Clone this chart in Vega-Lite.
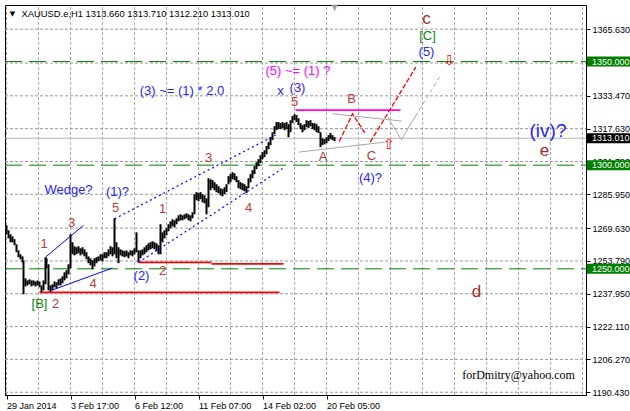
{
  "$schema": "https://vega.github.io/schema/vega-lite/v6.json",
  "width": 581,
  "height": 390,
  "padding": {"left": 3, "top": 3, "right": 0, "bottom": 0},
  "background": "white",
  "config": {
    "view": {"stroke": "black", "strokeWidth": 1},
    "font": "Liberation Sans",
    "axis": {"grid": false, "labelOverlap": false, "labelSeparation": 0, "title": null,
      "labelFont": "Liberation Sans", "labelFontSize": 9, "labelColor": "black", "labelPadding": 2, "tickSize": 4, "tickColor": "black", "tickWidth": 1, "domainColor": "black"}
  },
  "encoding": {
    "x": {
      "field": "t", "type": "quantitative",
      "scale": {"domain": [-1.5, 579.5], "nice": false, "zero": false},
      "axis": {
        "title": null,
        "values": [0, 64, 128, 192, 256, 320],
        "labelExpr": "datum.value == 0 ? '29 Jan 2014' : datum.value == 64 ? '3 Feb 17:00' : datum.value == 128 ? '6 Feb 12:00' : datum.value == 192 ? '11 Feb 07:00' : datum.value == 256 ? '14 Feb 02:00' : '20 Feb 05:00'",
        "labelAlign": "left", "labelBaseline": "top", "labelFlush": false, "labelOverlap": false
      }
    },
    "y": {
      "field": "p", "type": "quantitative",
      "scale": {"domain": [1189.1, 1377.3], "nice": false, "zero": false},
      "axis": {
        "title": null, "orient": "right",
        "values": [1190.43, 1206.27, 1222.11, 1237.95, 1253.79, 1269.63, 1285.95, 1301.79, 1317.63, 1333.47, 1365.63],
        "format": ".3f", "labelOverlap": false
      }
    }
  },
  "datasets": {
    "grid": [
      {"id":"v0","o":0,"t":0,"p":1189.1},{"id":"v0","o":1,"t":0,"p":1377.3},
      {"id":"v1","o":0,"t":32,"p":1189.1},{"id":"v1","o":1,"t":32,"p":1377.3},
      {"id":"v2","o":0,"t":64,"p":1189.1},{"id":"v2","o":1,"t":64,"p":1377.3},
      {"id":"v3","o":0,"t":96,"p":1189.1},{"id":"v3","o":1,"t":96,"p":1377.3},
      {"id":"v4","o":0,"t":128,"p":1189.1},{"id":"v4","o":1,"t":128,"p":1377.3},
      {"id":"v5","o":0,"t":160,"p":1189.1},{"id":"v5","o":1,"t":160,"p":1377.3},
      {"id":"v6","o":0,"t":192,"p":1189.1},{"id":"v6","o":1,"t":192,"p":1377.3},
      {"id":"v7","o":0,"t":224,"p":1189.1},{"id":"v7","o":1,"t":224,"p":1377.3},
      {"id":"v8","o":0,"t":256,"p":1189.1},{"id":"v8","o":1,"t":256,"p":1377.3},
      {"id":"v9","o":0,"t":288,"p":1189.1},{"id":"v9","o":1,"t":288,"p":1377.3},
      {"id":"v10","o":0,"t":320,"p":1189.1},{"id":"v10","o":1,"t":320,"p":1377.3},
      {"id":"v11","o":0,"t":352,"p":1189.1},{"id":"v11","o":1,"t":352,"p":1377.3},
      {"id":"v12","o":0,"t":384,"p":1189.1},{"id":"v12","o":1,"t":384,"p":1377.3},
      {"id":"v13","o":0,"t":416,"p":1189.1},{"id":"v13","o":1,"t":416,"p":1377.3},
      {"id":"v14","o":0,"t":448,"p":1189.1},{"id":"v14","o":1,"t":448,"p":1377.3},
      {"id":"v15","o":0,"t":480,"p":1189.1},{"id":"v15","o":1,"t":480,"p":1377.3},
      {"id":"v16","o":0,"t":512,"p":1189.1},{"id":"v16","o":1,"t":512,"p":1377.3},
      {"id":"v17","o":0,"t":544,"p":1189.1},{"id":"v17","o":1,"t":544,"p":1377.3},
      {"id":"v18","o":0,"t":576,"p":1189.1},{"id":"v18","o":1,"t":576,"p":1377.3},
      {"id":"h0","o":0,"t":-1.5,"p":1190.43},{"id":"h0","o":1,"t":579.5,"p":1190.43},
      {"id":"h1","o":0,"t":-1.5,"p":1206.27},{"id":"h1","o":1,"t":579.5,"p":1206.27},
      {"id":"h2","o":0,"t":-1.5,"p":1222.11},{"id":"h2","o":1,"t":579.5,"p":1222.11},
      {"id":"h3","o":0,"t":-1.5,"p":1237.95},{"id":"h3","o":1,"t":579.5,"p":1237.95},
      {"id":"h4","o":0,"t":-1.5,"p":1253.79},{"id":"h4","o":1,"t":579.5,"p":1253.79},
      {"id":"h5","o":0,"t":-1.5,"p":1269.63},{"id":"h5","o":1,"t":579.5,"p":1269.63},
      {"id":"h6","o":0,"t":-1.5,"p":1285.95},{"id":"h6","o":1,"t":579.5,"p":1285.95},
      {"id":"h7","o":0,"t":-1.5,"p":1301.79},{"id":"h7","o":1,"t":579.5,"p":1301.79},
      {"id":"h8","o":0,"t":-1.5,"p":1317.63},{"id":"h8","o":1,"t":579.5,"p":1317.63},
      {"id":"h9","o":0,"t":-1.5,"p":1333.47},{"id":"h9","o":1,"t":579.5,"p":1333.47},
      {"id":"h10","o":0,"t":-1.5,"p":1349.31},{"id":"h10","o":1,"t":579.5,"p":1349.31},
      {"id":"h11","o":0,"t":-1.5,"p":1365.63},{"id":"h11","o":1,"t":579.5,"p":1365.63}
    ],
    "bars": [
      {"t":0,"p":1266.7,"hi":1271.0},{"t":2,"p":1264.7,"hi":1268.6},{"t":4,"p":1262.8,"hi":1266.7},{"t":6,"p":1262.8,"hi":1265.7},
      {"t":8,"p":1261.4,"hi":1264.3},{"t":10,"p":1258.0,"hi":1261.8},{"t":12,"p":1255.6,"hi":1258.9},{"t":14,"p":1254.6,"hi":1257.0},
      {"t":16,"p":1253.1,"hi":1256.0},{"t":17,"p":1237.7,"hi":1254.1},{"t":19,"p":1241.5,"hi":1245.4},{"t":21,"p":1242.0,"hi":1244.4},
      {"t":23,"p":1242.5,"hi":1244.9},{"t":25,"p":1241.5,"hi":1244.4},{"t":27,"p":1242.0,"hi":1244.4},{"t":29,"p":1241.5,"hi":1243.9},
      {"t":31,"p":1242.0,"hi":1244.4},{"t":33,"p":1241.1,"hi":1243.9},{"t":35,"p":1238.6,"hi":1242.0},{"t":37,"p":1239.6,"hi":1244.4},
      {"t":39,"p":1242.5,"hi":1255.6},{"t":40,"p":1250.2,"hi":1255.1},{"t":42,"p":1239.6,"hi":1252.2},{"t":44,"p":1238.6,"hi":1242.0},
      {"t":46,"p":1239.6,"hi":1242.5},{"t":48,"p":1241.1,"hi":1243.9},{"t":50,"p":1240.6,"hi":1243.5},{"t":52,"p":1242.0,"hi":1244.9},
      {"t":54,"p":1242.0,"hi":1245.4},{"t":56,"p":1243.0,"hi":1246.4},{"t":58,"p":1244.4,"hi":1248.3},{"t":60,"p":1245.4,"hi":1249.3},
      {"t":62,"p":1247.3,"hi":1252.2},{"t":64,"p":1250.2,"hi":1266.7},{"t":66,"p":1257.0,"hi":1262.8},{"t":68,"p":1256.5,"hi":1260.9},
      {"t":70,"p":1257.0,"hi":1260.4},{"t":72,"p":1257.5,"hi":1260.9},{"t":74,"p":1256.5,"hi":1259.9},{"t":76,"p":1257.0,"hi":1260.4},
      {"t":78,"p":1256.0,"hi":1259.4},{"t":80,"p":1254.6,"hi":1258.0},{"t":82,"p":1252.7,"hi":1256.0},{"t":84,"p":1251.7,"hi":1255.1},
      {"t":86,"p":1249.8,"hi":1254.1},{"t":88,"p":1251.2,"hi":1255.1},{"t":90,"p":1252.7,"hi":1255.6},{"t":92,"p":1253.6,"hi":1256.0},
      {"t":94,"p":1254.1,"hi":1257.0},{"t":96,"p":1253.6,"hi":1257.0},{"t":98,"p":1255.1,"hi":1258.0},{"t":100,"p":1255.1,"hi":1258.0},
      {"t":102,"p":1256.0,"hi":1259.4},{"t":104,"p":1257.0,"hi":1260.9},{"t":106,"p":1256.0,"hi":1260.4},{"t":108,"p":1257.0,"hi":1274.4},
      {"t":110,"p":1255.1,"hi":1262.8},{"t":112,"p":1252.7,"hi":1260.4},{"t":114,"p":1256.5,"hi":1259.4},{"t":116,"p":1256.0,"hi":1258.9},
      {"t":118,"p":1255.6,"hi":1258.5},{"t":120,"p":1256.0,"hi":1258.9},{"t":122,"p":1255.1,"hi":1258.0},{"t":124,"p":1256.5,"hi":1258.9},
      {"t":126,"p":1256.0,"hi":1258.9},{"t":128,"p":1257.0,"hi":1259.9},{"t":130,"p":1258.0,"hi":1267.6},{"t":132,"p":1253.1,"hi":1258.9},
      {"t":134,"p":1255.1,"hi":1258.9},{"t":136,"p":1256.5,"hi":1259.4},{"t":138,"p":1257.0,"hi":1260.4},{"t":140,"p":1258.0,"hi":1261.4},
      {"t":142,"p":1258.9,"hi":1262.3},{"t":144,"p":1259.4,"hi":1262.8},{"t":146,"p":1259.9,"hi":1263.3},{"t":148,"p":1259.4,"hi":1262.8},
      {"t":150,"p":1258.5,"hi":1262.3},{"t":152,"p":1257.0,"hi":1261.4},{"t":154,"p":1257.0,"hi":1271.5},{"t":156,"p":1262.8,"hi":1267.6},
      {"t":158,"p":1264.7,"hi":1268.6},{"t":160,"p":1266.2,"hi":1269.6},{"t":162,"p":1268.1,"hi":1271.5},{"t":164,"p":1269.6,"hi":1272.9},
      {"t":166,"p":1270.5,"hi":1273.9},{"t":168,"p":1270.0,"hi":1273.4},{"t":170,"p":1271.5,"hi":1274.4},{"t":172,"p":1272.9,"hi":1275.8},
      {"t":174,"p":1273.4,"hi":1276.3},{"t":176,"p":1273.4,"hi":1275.8},{"t":178,"p":1273.9,"hi":1276.3},{"t":180,"p":1274.4,"hi":1276.8},
      {"t":182,"p":1273.4,"hi":1276.3},{"t":184,"p":1272.9,"hi":1275.8},{"t":186,"p":1274.4,"hi":1277.3},{"t":188,"p":1276.3,"hi":1286.0},
      {"t":190,"p":1283.1,"hi":1287.0},{"t":192,"p":1282.6,"hi":1286.5},{"t":194,"p":1283.6,"hi":1287.0},{"t":196,"p":1282.1,"hi":1286.0},
      {"t":198,"p":1281.6,"hi":1285.5},{"t":200,"p":1276.3,"hi":1284.1},{"t":202,"p":1279.7,"hi":1293.7},{"t":204,"p":1287.9,"hi":1293.2},
      {"t":206,"p":1288.9,"hi":1292.8},{"t":208,"p":1287.9,"hi":1291.8},{"t":210,"p":1287.0,"hi":1290.8},{"t":212,"p":1286.5,"hi":1289.9},
      {"t":214,"p":1285.5,"hi":1288.9},{"t":216,"p":1285.0,"hi":1288.4},{"t":218,"p":1286.0,"hi":1289.4},{"t":220,"p":1287.0,"hi":1290.8},
      {"t":222,"p":1290.8,"hi":1294.7},{"t":224,"p":1291.8,"hi":1295.7},{"t":226,"p":1293.2,"hi":1296.6},{"t":228,"p":1292.8,"hi":1296.1},
      {"t":230,"p":1291.8,"hi":1294.7},{"t":232,"p":1288.9,"hi":1292.8},{"t":234,"p":1288.4,"hi":1291.8},{"t":236,"p":1287.9,"hi":1291.3},
      {"t":238,"p":1287.4,"hi":1290.8},{"t":240,"p":1286.5,"hi":1289.9},{"t":242,"p":1288.9,"hi":1293.7},{"t":244,"p":1291.8,"hi":1295.7},
      {"t":246,"p":1293.7,"hi":1297.6},{"t":248,"p":1295.7,"hi":1299.5},{"t":250,"p":1298.1,"hi":1301.4},{"t":252,"p":1299.5,"hi":1302.9},
      {"t":254,"p":1301.0,"hi":1304.8},{"t":256,"p":1302.9,"hi":1306.3},{"t":258,"p":1303.9,"hi":1307.2},{"t":260,"p":1305.3,"hi":1309.2},
      {"t":262,"p":1307.7,"hi":1311.1},{"t":264,"p":1309.7,"hi":1313.5},{"t":266,"p":1312.1,"hi":1315.9},{"t":268,"p":1315.0,"hi":1318.8},
      {"t":270,"p":1316.9,"hi":1320.8},{"t":272,"p":1317.4,"hi":1320.8},{"t":274,"p":1317.4,"hi":1320.3},{"t":276,"p":1317.9,"hi":1320.8},
      {"t":278,"p":1316.9,"hi":1320.3},{"t":280,"p":1317.4,"hi":1320.8},{"t":282,"p":1313.5,"hi":1319.8},{"t":284,"p":1315.9,"hi":1321.7},
      {"t":286,"p":1320.3,"hi":1323.7},{"t":288,"p":1321.7,"hi":1324.6},{"t":290,"p":1320.8,"hi":1324.2},{"t":292,"p":1319.3,"hi":1322.7},
      {"t":294,"p":1317.4,"hi":1320.3},{"t":296,"p":1315.9,"hi":1319.3},{"t":298,"p":1316.9,"hi":1319.8},{"t":300,"p":1318.4,"hi":1321.7},
      {"t":302,"p":1317.9,"hi":1321.3},{"t":304,"p":1318.8,"hi":1321.7},{"t":306,"p":1317.4,"hi":1320.3},{"t":308,"p":1316.9,"hi":1320.3},
      {"t":310,"p":1315.9,"hi":1319.8},{"t":312,"p":1315.5,"hi":1318.8},{"t":314,"p":1308.7,"hi":1315.9},{"t":316,"p":1309.7,"hi":1313.0},
      {"t":318,"p":1310.1,"hi":1312.6},{"t":320,"p":1310.6,"hi":1313.5},{"t":322,"p":1311.6,"hi":1314.5},{"t":324,"p":1312.6,"hi":1315.5},
      {"t":326,"p":1312.1,"hi":1314.5},{"t":328,"p":1311.6,"hi":1313.5}
    ],
    "segs": [
      {"id":"L1350","kind":"green","o":0,"t":-1.5,"p":1350},{"id":"L1350","kind":"green","o":1,"t":579.5,"p":1350},
      {"id":"L1300","kind":"green","o":0,"t":-1.5,"p":1300},{"id":"L1300","kind":"green","o":1,"t":579.5,"p":1300},
      {"id":"L1250","kind":"green","o":0,"t":-1.5,"p":1250},{"id":"L1250","kind":"green","o":1,"t":579.5,"p":1250},
      {"id":"bid","kind":"bid","o":0,"t":-1.5,"p":1313.01},{"id":"bid","kind":"bid","o":1,"t":579.5,"p":1313.01},
      {"id":"w1","kind":"blue","o":0,"t":39,"p":1255.6},{"id":"w1","kind":"blue","o":1,"t":77,"p":1271.0},
      {"id":"w2","kind":"blue","o":0,"t":45,"p":1239.6},{"id":"w2","kind":"blue","o":1,"t":106,"p":1250.4},
      {"id":"c1","kind":"bluedot","o":0,"t":108,"p":1274.1},{"id":"c1","kind":"bluedot","o":1,"t":269,"p":1314.5},
      {"id":"c2","kind":"bluedot","o":0,"t":132,"p":1253.1},{"id":"c2","kind":"bluedot","o":1,"t":278,"p":1299.0},
      {"id":"r1","kind":"red","o":0,"t":33,"p":1238.6},{"id":"r1","kind":"red","o":1,"t":273,"p":1238.6},
      {"id":"r2","kind":"red","o":0,"t":132,"p":1253.1},{"id":"r2","kind":"red","o":1,"t":205,"p":1253.1},
      {"id":"r3","kind":"red","o":0,"t":205,"p":1252.4},{"id":"r3","kind":"red","o":1,"t":277,"p":1252.4},
      {"id":"m1","kind":"magenta","o":0,"t":289,"p":1326.6},{"id":"m1","kind":"magenta","o":1,"t":394,"p":1326.6},
      {"id":"g1","kind":"gray","o":0,"t":326,"p":1324.8},{"id":"g1","kind":"gray","o":1,"t":395,"p":1321.3},
      {"id":"g2","kind":"gray","o":0,"t":292,"p":1306.3},{"id":"g2","kind":"gray","o":1,"t":378,"p":1311.1},
      {"id":"g3","kind":"gray","o":0,"t":381,"p":1323.2},{"id":"g3","kind":"gray","o":1,"t":395,"p":1312.3},{"id":"g3","kind":"gray","o":2,"t":409,"p":1323.8},
      {"id":"g4","kind":"graydash","o":0,"t":409,"p":1323.8},{"id":"g4","kind":"graydash","o":1,"t":433,"p":1342.5},
      {"id":"d1","kind":"reddash","o":0,"t":332.7,"p":1311.4},{"id":"d1","kind":"reddash","o":1,"t":346,"p":1324.8},{"id":"d1","kind":"reddash","o":2,"t":358.3,"p":1315.6},
      {"id":"d2","kind":"reddash","o":0,"t":363.7,"p":1311.1},{"id":"d2","kind":"reddash","o":1,"t":409.3,"p":1347.3}
    ],
    "levels": [
      {"t":579.5,"p":1350,"kind":"green","txt":"1350.000"},
      {"t":579.5,"p":1300,"kind":"green","txt":"1300.000"},
      {"t":579.5,"p":1250,"kind":"green","txt":"1250.000"},
      {"t":579.5,"p":1313.01,"kind":"bid","txt":"1313.010"}
    ],
    "labels": [
      {"g":"m","kind":"blue","t":175.5,"p":1335.7,"txt":"(3) ~= (1) * 2.0"},
      {"g":"m","kind":"blue","t":274,"p":1335.7,"txt":"x"},
      {"g":"m","kind":"blue","t":291,"p":1337.2,"txt":"(3)"},
      {"g":"m","kind":"magenta","t":291.5,"p":1345.4,"txt":"(5) ~= (1) ?"},
      {"g":"m","kind":"wave","t":288,"p":1330.4,"txt":"5"},
      {"g":"m","kind":"wave","t":202,"p":1303.4,"txt":"3"},
      {"g":"m","kind":"blue","t":62,"p":1287.9,"txt":"Wedge?"},
      {"g":"m","kind":"blue","t":111,"p":1287.0,"txt":"(1)?"},
      {"g":"m","kind":"wave","t":65,"p":1272.1,"txt":"3"},
      {"g":"m","kind":"wave","t":37.5,"p":1261.8,"txt":"1"},
      {"g":"m","kind":"wave","t":109,"p":1279.2,"txt":"5"},
      {"g":"m","kind":"wave","t":156,"p":1278.7,"txt":"1"},
      {"g":"m","kind":"wave","t":242,"p":1279.2,"txt":"4"},
      {"g":"m","kind":"wave","t":86.5,"p":1242.8,"txt":"4"},
      {"g":"m","kind":"blue","t":135,"p":1246.4,"txt":"(2)"},
      {"g":"m","kind":"wave","t":156,"p":1248.8,"txt":"2"},
      {"g":"m","kind":"green","t":33,"p":1232.9,"txt":"[B]"},
      {"g":"m","kind":"wave","t":49,"p":1232.9,"txt":"2"},
      {"g":"m","kind":"wave","t":316.5,"p":1304.1,"txt":"A"},
      {"g":"m","kind":"wave","t":345,"p":1332.0,"txt":"B"},
      {"g":"m","kind":"wave","t":365,"p":1304.3,"txt":"C"},
      {"g":"m","kind":"blue","t":364,"p":1294.0,"txt":"(4)?"},
      {"g":"m","kind":"green","t":421,"p":1362.3,"txt":"[C]"},
      {"g":"m","kind":"blue","t":420,"p":1354.6,"txt":"(5)"},
      {"g":"b","kind":"dark","t":420,"p":1370.5,"txt":"c"},
      {"g":"b","kind":"dark","t":538,"p":1306.8,"txt":"e"},
      {"g":"b","kind":"dark","t":470,"p":1238.6,"txt":"d"},
      {"g":"h","kind":"blue","t":541.5,"p":1316.4,"txt":"(iv)?"},
      {"g":"e","kind":"black","t":512,"p":1198.6,"txt":"forDmitry@yahoo.com"},
      {"g":"hd","kind":"black","t":15,"p":1372.9,"txt":"XAUUSD.e,H1  1313.660 1313.710 1312.210 1313.010"},
      {"g":"tri","kind":"black","t":6,"p":1372.9,"txt":"▼"},
      {"g":"tri2","kind":"gray","t":328,"p":1376.0,"txt":"▼"},
      {"g":"ar","kind":"red","t":382,"p":1309.5,"txt":"⇧"},
      {"g":"ar","kind":"red","t":442.7,"p":1350.2,"txt":"⇩"}
    ]
  },
  "layer": [
    {
      "data": {"name": "grid"},
      "transform": [{"filter": "indexof(datum.id, 'v') == 0"}],
      "mark": {"type": "line", "color": "#a8a8a8", "strokeWidth": 1, "strokeDash": [3, 2]},
      "encoding": {"detail": {"field": "id"}, "order": {"field": "o"}}
    },
    {
      "data": {"name": "grid"},
      "transform": [{"filter": "indexof(datum.id, 'h') == 0"}],
      "mark": {"type": "line", "color": "#989898", "strokeWidth": 1, "strokeDash": [3, 2]},
      "encoding": {"detail": {"field": "id"}, "order": {"field": "o"}}
    },
    {
      "data": {"name": "segs"},
      "transform": [{"filter": "datum.kind == 'bid'"}],
      "mark": {"type": "line", "color": "#b4b4b4", "strokeWidth": 1},
      "encoding": {"detail": {"field": "id"}, "order": {"field": "o"}}
    },
    {
      "data": {"name": "segs"},
      "transform": [{"filter": "datum.kind == 'green'"}],
      "mark": {"type": "line", "color": "#008000", "strokeWidth": 1, "strokeDash": [17, 7]},
      "encoding": {"detail": {"field": "id"}, "order": {"field": "o"}}
    },
    {
      "data": {"name": "bars"},
      "mark": {"type": "rule", "color": "black", "strokeWidth": 2},
      "encoding": {"y2": {"field": "hi"}}
    },
    {
      "data": {"name": "segs"},
      "transform": [{"filter": "datum.kind == 'red'"}],
      "mark": {"type": "line", "color": "#ff0000", "strokeWidth": 1.6},
      "encoding": {"detail": {"field": "id"}, "order": {"field": "o"}}
    },
    {
      "data": {"name": "segs"},
      "transform": [{"filter": "datum.kind == 'magenta'"}],
      "mark": {"type": "line", "color": "#ff00ff", "strokeWidth": 1.8},
      "encoding": {"detail": {"field": "id"}, "order": {"field": "o"}}
    },
    {
      "data": {"name": "segs"},
      "transform": [{"filter": "datum.kind == 'blue'"}],
      "mark": {"type": "line", "color": "#0000ff", "strokeWidth": 1},
      "encoding": {"detail": {"field": "id"}, "order": {"field": "o"}}
    },
    {
      "data": {"name": "segs"},
      "transform": [{"filter": "datum.kind == 'bluedot'"}],
      "mark": {"type": "line", "color": "#0000ff", "strokeWidth": 1.2, "strokeDash": [2, 3]},
      "encoding": {"detail": {"field": "id"}, "order": {"field": "o"}}
    },
    {
      "data": {"name": "segs"},
      "transform": [{"filter": "datum.kind == 'gray'"}],
      "mark": {"type": "line", "color": "#a8a8a8", "strokeWidth": 1},
      "encoding": {"detail": {"field": "id"}, "order": {"field": "o"}}
    },
    {
      "data": {"name": "segs"},
      "transform": [{"filter": "datum.kind == 'graydash'"}],
      "mark": {"type": "line", "color": "#a8a8a8", "strokeWidth": 1, "strokeDash": [4, 3]},
      "encoding": {"detail": {"field": "id"}, "order": {"field": "o"}}
    },
    {
      "data": {"name": "segs"},
      "transform": [{"filter": "datum.kind == 'reddash'"}],
      "mark": {"type": "line", "color": "#ff0000", "strokeWidth": 1.3, "strokeDash": [5, 2]},
      "encoding": {"detail": {"field": "id"}, "order": {"field": "o"}}
    },
    {
      "data": {"name": "labels"},
      "transform": [{"filter": "datum.g == 'm'"}],
      "mark": {"type": "text", "fontSize": 13, "font": "Liberation Sans", "align": "center", "baseline": "middle"},
      "encoding": {
        "text": {"field": "txt"},
        "color": {"field": "kind", "type": "nominal", "legend": null,
          "scale": {"domain": ["wave", "blue", "magenta", "green"], "range": ["#b83a3a", "#2424ff", "#ff00ff", "#0a8a0a"]}}
      }
    },
    {
      "data": {"name": "labels"},
      "transform": [{"filter": "datum.g == 'b'"}],
      "mark": {"type": "text", "fontSize": 17, "font": "Liberation Sans", "align": "center", "baseline": "middle", "color": "#a52a2a"},
      "encoding": {"text": {"field": "txt"}}
    },
    {
      "data": {"name": "labels"},
      "transform": [{"filter": "datum.g == 'h'"}],
      "mark": {"type": "text", "fontSize": 19, "font": "Liberation Sans", "align": "center", "baseline": "middle", "color": "#2424ff"},
      "encoding": {"text": {"field": "txt"}}
    },
    {
      "data": {"name": "labels"},
      "transform": [{"filter": "datum.g == 'e'"}],
      "mark": {"type": "text", "fontSize": 12, "font": "Liberation Serif", "align": "center", "baseline": "middle", "color": "black"},
      "encoding": {"text": {"field": "txt"}}
    },
    {
      "data": {"name": "labels"},
      "transform": [{"filter": "datum.g == 'hd'"}],
      "mark": {"type": "text", "fontSize": 9.4, "font": "Liberation Sans", "align": "left", "baseline": "middle", "color": "black"},
      "encoding": {"text": {"field": "txt"}}
    },
    {
      "data": {"name": "labels"},
      "transform": [{"filter": "datum.g == 'tri'"}],
      "mark": {"type": "text", "fontSize": 7, "font": "DejaVu Sans", "align": "center", "baseline": "middle", "color": "black"},
      "encoding": {"text": {"field": "txt"}}
    },
    {
      "data": {"name": "labels"},
      "transform": [{"filter": "datum.g == 'tri2'"}],
      "mark": {"type": "text", "fontSize": 8, "font": "DejaVu Sans", "align": "center", "baseline": "middle", "color": "#a0a0a0"},
      "encoding": {"text": {"field": "txt"}}
    },
    {
      "data": {"name": "labels"},
      "transform": [{"filter": "datum.g == 'ar'"}],
      "mark": {"type": "text", "fontSize": 14, "font": "DejaVu Sans", "align": "center", "baseline": "middle", "color": "#ff0000"},
      "encoding": {"text": {"field": "txt"}}
    },
    {
      "data": {"name": "levels"},
      "transform": [{"filter": "datum.kind == 'green'"}],
      "mark": {"type": "rect", "color": "#008000", "xOffset": 1, "x2Offset": 45, "yOffset": -5, "y2Offset": 5},
      "encoding": {"x2": {"field": "t"}, "y2": {"field": "p"}}
    },
    {
      "data": {"name": "levels"},
      "transform": [{"filter": "datum.kind == 'bid'"}],
      "mark": {"type": "rect", "color": "#000000", "xOffset": 1, "x2Offset": 45, "yOffset": -5, "y2Offset": 5},
      "encoding": {"x2": {"field": "t"}, "y2": {"field": "p"}}
    },
    {
      "data": {"name": "levels"},
      "mark": {"type": "text", "color": "white", "fontSize": 9, "font": "Liberation Sans", "align": "left", "baseline": "middle", "dx": 6},
      "encoding": {"text": {"field": "txt"}}
    }
  ]
}
